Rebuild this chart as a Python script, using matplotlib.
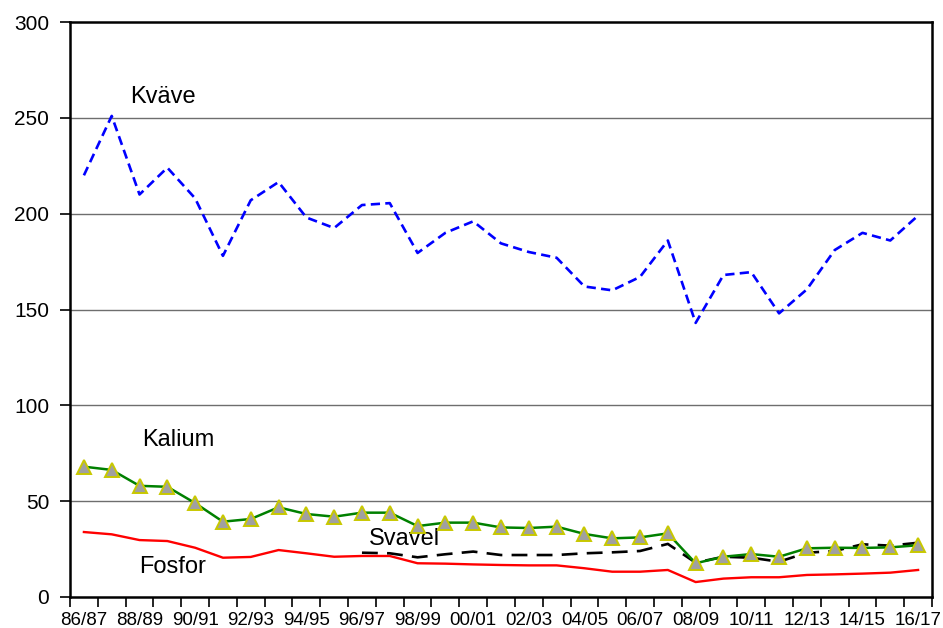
import numpy as np
import matplotlib
matplotlib.use("Agg")
import matplotlib.pyplot as plt

plt.rcParams['font.family'] = ['Liberation Sans', 'DejaVu Sans']

# Säsonger 86/87 - 16/17
sasonger = ["86/87", "87/88", "88/89", "89/90", "90/91", "91/92", "92/93", "93/94",
            "94/95", "95/96", "96/97", "97/98", "98/99", "99/00", "00/01", "01/02",
            "02/03", "03/04", "04/05", "05/06", "06/07", "07/08", "08/09", "09/10",
            "10/11", "11/12", "12/13", "13/14", "14/15", "15/16", "16/17"]

kvave = [220, 251, 210, 224, 208, 178, 207, 216.5, 198, 192.5, 204.5, 205.5,
         179.5, 190, 196, 184.5, 180, 177, 162, 160, 167, 186, 143, 168,
         169.5, 148, 160.5, 181, 190, 186, 199]

kalium = [68, 66.3, 58, 57.5, 49, 39.3, 40.7, 46.8, 43.3, 41.9, 44, 44,
          37, 38.8, 38.8, 36.3, 36, 36.7, 32.9, 30.6, 31.1, 33.2, 17.6, 21,
          22.4, 21, 25.4, 25.7, 25.6, 25.9, 27]

fosfor = [33.9, 32.7, 29.7, 29.2, 25.7, 20.5, 20.9, 24.5, 22.8, 21, 21.4, 21.4,
          17.6, 17.4, 17, 16.7, 16.5, 16.5, 15, 13.2, 13.2, 14.1, 7.8, 9.6,
          10.3, 10.3, 11.5, 11.8, 12.2, 12.7, 14.1]

# Svavel finns från 96/97
svavel = [None] * 10 + [23.1, 22.8, 20.7, 22.3, 23.7, 21.9, 21.9, 21.9, 22.8, 23.3,
                        24, 27.7, 17.9, 21, 20.5, 18.4, 23.1, 24, 27.5, 26.8, 28.3]

x = np.arange(len(sasonger))
svavel_arr = np.array([np.nan if v is None else v for v in svavel])

fig = plt.figure(figsize=(9.43, 6.28), dpi=100)
ax = fig.add_axes([70 / 943, 1 - 597 / 628, (932 - 70) / 943, (597 - 22) / 628])

for y in range(50, 300, 50):
    ax.axhline(y, color='#6e6e6e', lw=1.0, zorder=1)

ax.plot(x, kvave, color='#0000ff', lw=1.9, dashes=(3.5, 2), zorder=3)
ax.plot(x, fosfor, color='#ff0000', lw=1.7, zorder=3)
ax.plot(x, svavel_arr, color='black', lw=1.9, dashes=(6, 3.5), zorder=4)
ax.plot(x, kalium, color='#008000', lw=1.8, marker='^', markersize=10.5,
        markerfacecolor='#a0a0a0', markeredgecolor='#c8c800', markeredgewidth=1.4,
        zorder=5)

ax.text(1.65, 261, "Kväve", fontsize=17, ha='left', va='center')
ax.text(2.09, 82, "Kalium", fontsize=17, ha='left', va='center')
ax.text(10.25, 30.5, "Svavel", fontsize=17, ha='left', va='center')
ax.text(1.98, 15.5, "Fosfor", fontsize=17, ha='left', va='center')

ax.set_xlim(-0.5, len(sasonger) - 0.5)
ax.set_ylim(0, 300)
ax.set_yticks(range(0, 301, 50))
ax.tick_params(axis='y', labelsize=15, length=7, width=1.2, direction='out', pad=8)

# tickstreck mellan kategorierna, etiketter varannan säsong
ax.set_xticks(np.arange(-0.5, len(sasonger), 1.0))
ax.set_xticklabels([])
ax.tick_params(axis='x', which='major', length=7, width=1.2, direction='out')
ax.set_xticks(x[::2], minor=True)
ax.tick_params(axis='x', which='minor', length=0, labelsize=13.5, pad=10.5)
ax.set_xticklabels(sasonger[::2], minor=True)

for s in ax.spines.values():
    s.set_linewidth(1.8)
    s.set_color('black')

fig.savefig("out.png", dpi=100)
